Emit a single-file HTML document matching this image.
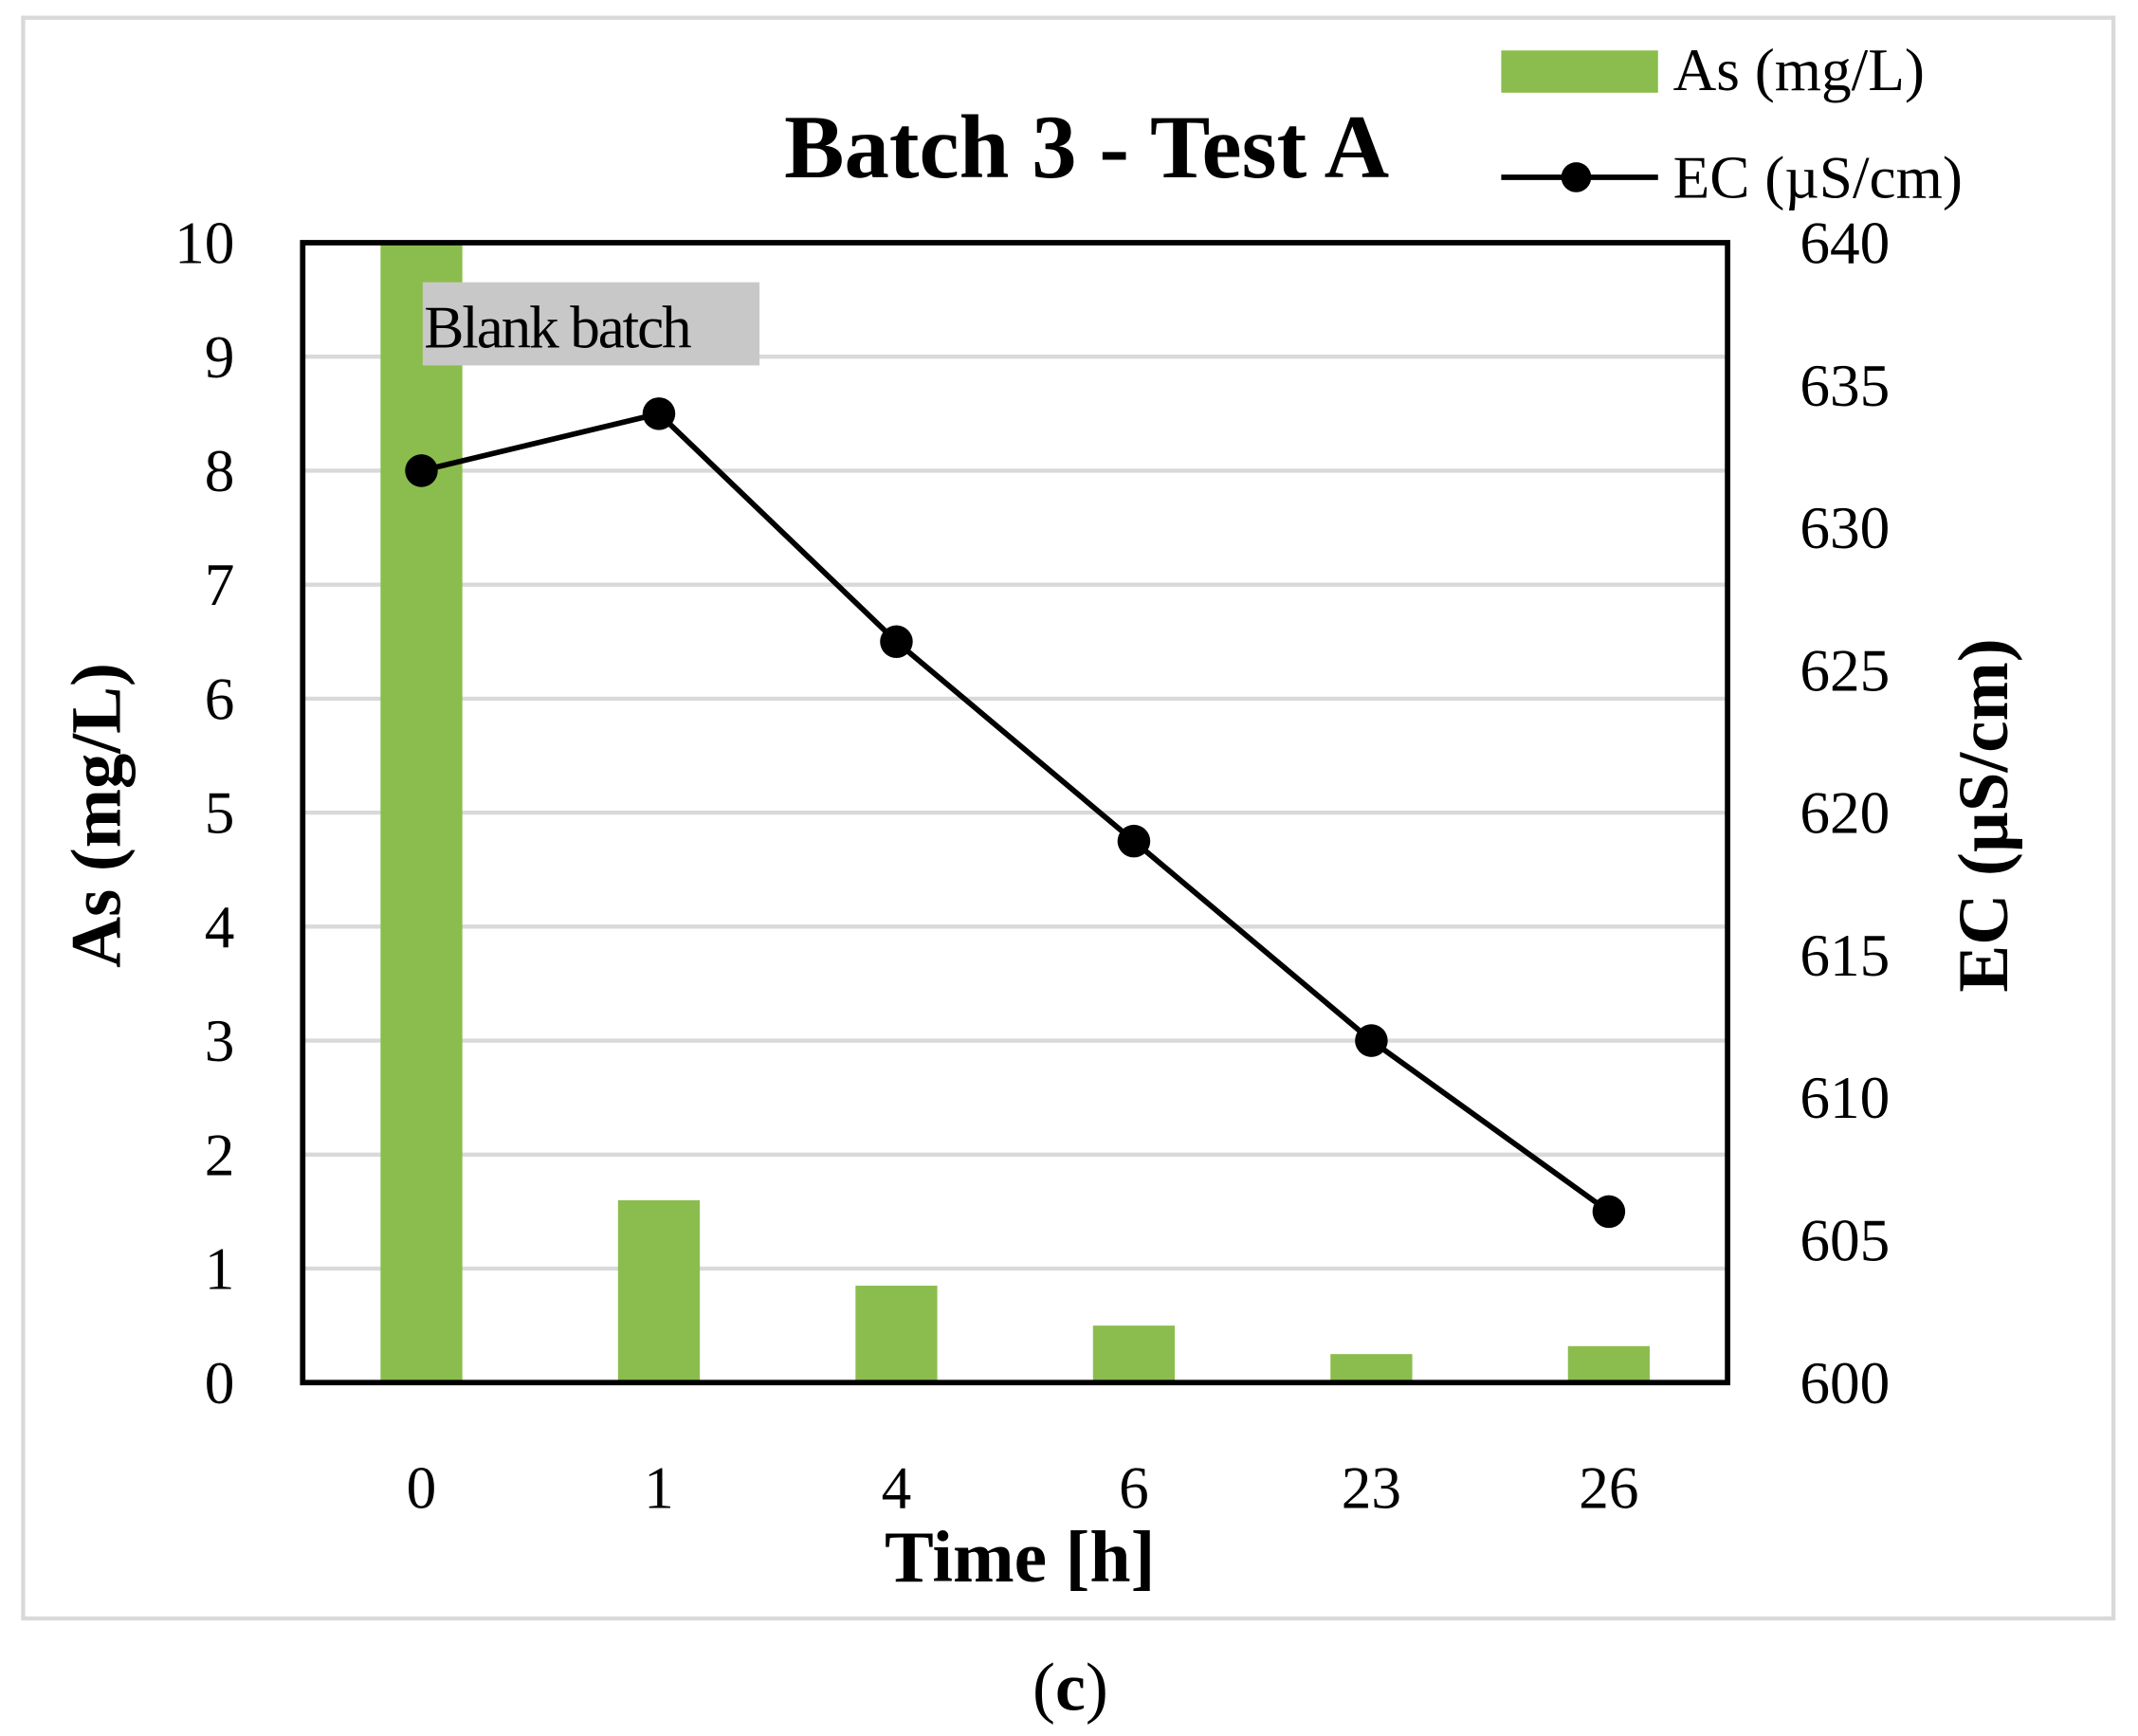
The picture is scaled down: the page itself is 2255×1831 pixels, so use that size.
<!DOCTYPE html>
<html><head><meta charset="utf-8"><style>
html,body{margin:0;padding:0;background:#fff;}
svg{display:block;}
text{font-family:"Liberation Serif",serif;fill:#000;}
</style></head><body>
<svg id="chart" width="2255" height="1831" viewBox="0 0 1568 1273.2" preserveAspectRatio="none" xmlns="http://www.w3.org/2000/svg">
<rect x="17" y="13" width="1533" height="1174" fill="#fff" stroke="#d9d9d9" stroke-width="3"/>
<g id="grid"></g>
<g id="bars"></g>
<rect x="310" y="207" width="247" height="61" fill="#c8c8c8"/>
<text x="311" y="255" font-size="44" letter-spacing="-1.5">Blank batch</text>
<g id="line"></g>
<rect x="222" y="178" width="1045" height="836" fill="none" stroke="#000" stroke-width="4"/>
<g id="ticks"></g>
<text x="797" y="130" font-size="66" font-weight="bold" text-anchor="middle">Batch 3 - Test A</text>
<text x="748" y="1160" font-size="54" font-weight="bold" text-anchor="middle">Time [h]</text>
<text transform="translate(88,598) rotate(-90)" font-size="52" font-weight="bold" text-anchor="middle">As (mg/L)</text>
<text transform="translate(1472,598) rotate(-90)" font-size="52" font-weight="bold" text-anchor="middle">EC (µS/cm)</text>
<rect x="1101" y="37" width="115" height="31" fill="#8bbd4e"/>
<text x="1227" y="66" font-size="44">As (mg/L)</text>
<line x1="1101" y1="130" x2="1216" y2="130" stroke="#000" stroke-width="4"/>
<circle cx="1156" cy="130" r="11" fill="#000"/>
<text x="1227" y="145" font-size="44">EC (µS/cm)</text>
<text x="785" y="1254" font-size="50" text-anchor="middle">(<tspan font-weight="bold">c</tspan>)</text>
</svg>
<script>
const categories = ["0","1","4","6","23","26"];
const asValues = [10, 1.6, 0.85, 0.5, 0.25, 0.32];
const ecValues = [632, 634, 626, 619, 612, 606];
const leftTicks = [0,1,2,3,4,5,6,7,8,9,10];
const rightTicks = [600,605,610,615,620,625,630,635,640];

const NS = "http://www.w3.org/2000/svg";
const L = 222, R = 1267, T = 178, B = 1014;
const band = (R - L) / categories.length;
const xPos = i => L + band * (i + 0.5);
const yLeft = v => B - (v / 10) * (B - T);
const yRight = v => B - ((v - 600) / 40) * (B - T);
function mk(tag, attrs, parent) {
  const e = document.createElementNS(NS, tag);
  for (const k in attrs) e.setAttribute(k, attrs[k]);
  parent.appendChild(e);
  return e;
}
const grid = document.getElementById('grid');
leftTicks.forEach(v => {
  if (v === 0 || v === 10) return;
  const g = mk('line', {x1: L, x2: R, y1: yLeft(v), y2: yLeft(v), stroke: '#d9d9d9', 'stroke-width': 3}, grid);
  
  
});
const bars = document.getElementById('bars');
asValues.forEach((v, i) => {
  const b = mk('rect', {x: xPos(i) - 30, y: yLeft(v), width: 60, height: B - yLeft(v), fill: '#8bbd4e'}, bars);
  
  
});
const line = document.getElementById('line');
const pts = ecValues.map((v, i) => xPos(i) + ',' + yRight(v)).join(' ');
const pl = mk('polyline', {points: pts, fill: 'none', stroke: '#000', 'stroke-width': 4}, line);


ecValues.forEach((v, i) => {
  const c = mk('circle', {cx: xPos(i), cy: yRight(v), r: 12, fill: '#000'}, line);
  
  
});
const ticks = document.getElementById('ticks');
leftTicks.forEach(v => {
  const t = mk('text', {x: 172, y: yLeft(v) + 15, 'font-size': 44, 'text-anchor': 'end'}, ticks);
  t.textContent = v;
  
  
});
rightTicks.forEach(v => {
  const t = mk('text', {x: 1320, y: yRight(v) + 15, 'font-size': 44}, ticks);
  t.textContent = v;
  
  
});
categories.forEach((c, i) => {
  const t = mk('text', {x: xPos(i), y: 1106, 'font-size': 44, 'text-anchor': 'middle'}, ticks);
  t.textContent = c;
  
  
});
</script>
</body></html>
